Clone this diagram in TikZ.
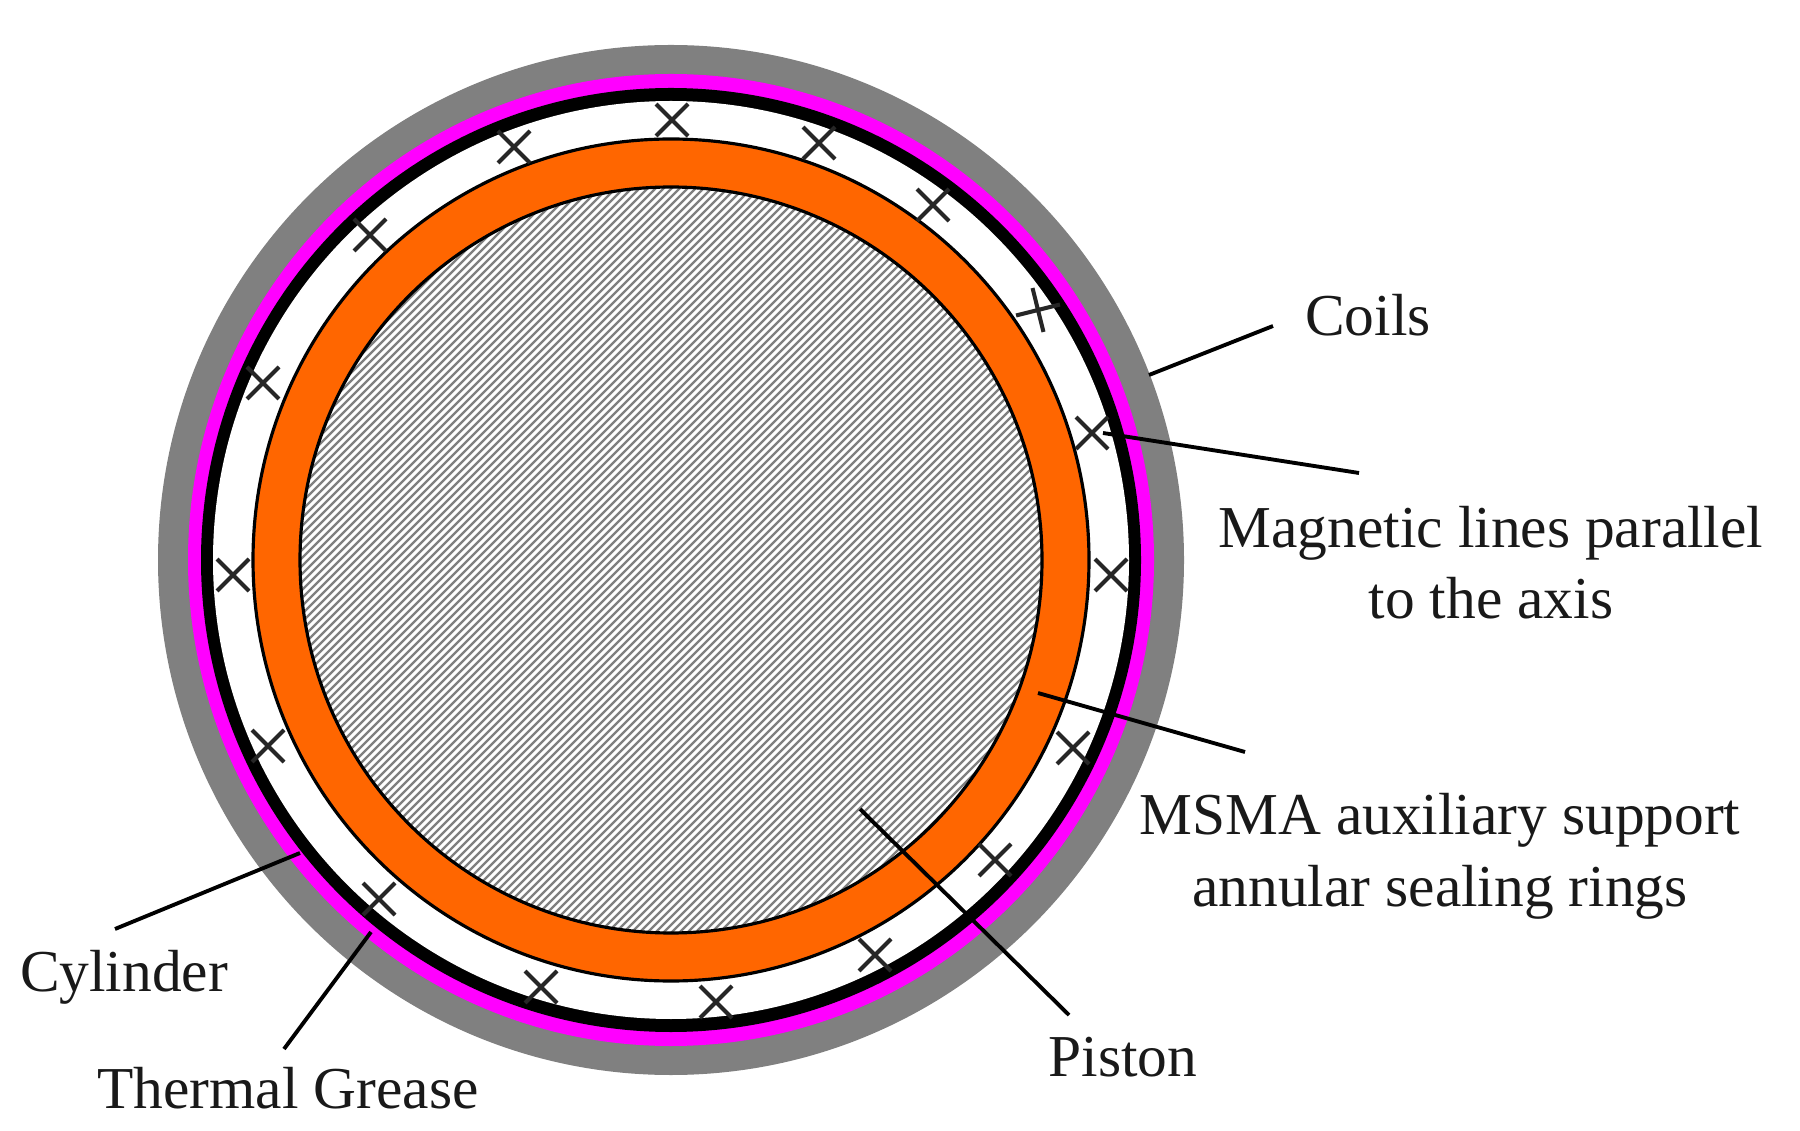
\documentclass[tikz,border=0pt]{standalone}
\usepackage{fontspec}
\setmainfont{Liberation Serif}
\definecolor{shellgrey}{HTML}{808080}
\definecolor{greasemag}{HTML}{FF00FF}
\definecolor{ringorange}{HTML}{FF6600}
\tikzset{
	lbl/.style={inner sep=0pt,anchor=base,align=center,font=\fontsize{16.9}{20.4}\selectfont,text=black!90},
	leader/.style={line width=1.1pt,black},
	coilx/.style={line width=1.15pt,black!85},
	hatchline/.style={line width=0.65pt,black!50},
	ringedge/.style={draw=black,line width=0.9pt}
}
\begin{document}
\begin{tikzpicture}[x=0.01cm,y=-0.01cm]
	\useasboundingbox (0,0) rectangle (1800,1131);
	\coordinate (cen) at (671,560);
	\fill[shellgrey] (cen) circle [x radius=513,y radius=515];
	\fill[greasemag] (cen) circle [x radius=483,y radius=486];
	\fill[black] (cen) circle [x radius=470,y radius=472];
	\fill[white] (cen) circle [x radius=458,y radius=459];
	\filldraw[fill=ringorange,ringedge] (cen) circle [x radius=418,y radius=421];
	\fill[white] (cen) circle [x radius=371,y radius=373];
	\begin{scope}
		\clip (cen) circle [x radius=371,y radius=373];
		\foreach \k in {500,508,...,1760} \draw[hatchline] (\k-100,100) -- (\k-1100,1100);
	\end{scope}
	\draw[ringedge] (cen) circle [x radius=371,y radius=373];
	% coil crosses, x / y / turn
	\foreach \x/\y/\a in {672/120/0,514/147/0,370/235/0,263/383/0,819/143/0,933/205/0,1038/310/-31,1092/433/0,1111/575/0,233/575/0,1073/748/0,268/746/0,995/860/0,379/899/0,875/955/0,716/1002/0,541/987/0}
		\draw[coilx,shift={(\x,\y)},rotate=\a] (-16,-16) -- (16,16) (-16,16) -- (16,-16);
	% labels
	\node[lbl] (coils) at (1368,336) {Coils};
	\node[lbl] (maglines) at (1491,619) {Magnetic lines parallel\\to the axis};
	\node[lbl] (msma) at (1440,906) {MSMA auxiliary support\\annular sealing rings};
	\node[lbl] (piston) at (1123,1076) {Piston};
	\node[lbl] (cyl) at (124,991) {Cylinder};
	\node[lbl] (grease) at (288,1108) {Thermal Grease};
	% leaders
	\coordinate (coilsA) at (1273,326);
	\coordinate (coilsB) at (1149,375);
	\coordinate (magA) at (1359,473);
	\coordinate (magB) at (1103,433);
	\coordinate (msmaA) at (1245,752);
	\coordinate (msmaB) at (1038,693);
	\coordinate (pistA) at (1069,1015);
	\coordinate (pistB) at (860,809);
	\coordinate (cylA) at (115,929);
	\coordinate (cylB) at (300,853);
	\coordinate (grsA) at (284,1049);
	\coordinate (grsB) at (371,932);
	\draw[leader] (coilsA) -- (coilsB);
	\draw[leader] (magA) -- (magB);
	\draw[leader] (msmaA) -- (msmaB);
	\draw[leader] (pistA) -- (pistB);
	\draw[leader] (cylA) -- (cylB);
	\draw[leader] (grsA) -- (grsB);
\end{tikzpicture}
\end{document}
